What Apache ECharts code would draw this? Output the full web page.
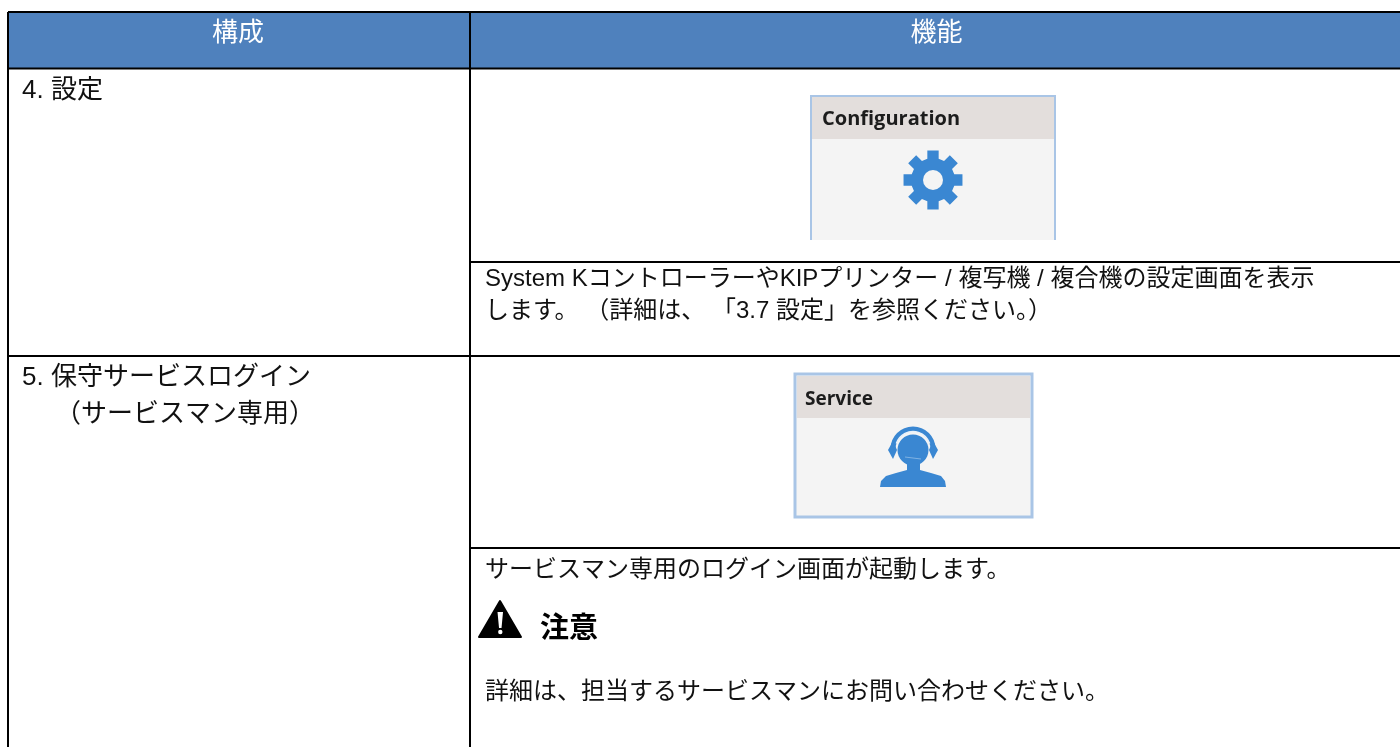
<!DOCTYPE html>
<html>
<head>
<meta charset="utf-8">
<title>構成と機能</title>
<script src="https://cdn.jsdelivr.net/npm/echarts@6/dist/echarts.min.js"></script>
<style>
  html, body { margin: 0; padding: 0; background: #fff; }
  #main { width: 1400px; height: 747px; }
</style>
</head>
<body>
<div id="main"></div>
<script>
// table content
const headers = ['構成', '機能']
const row4Name = ['4. 設定']
const row4Desc = ['System KコントローラーやKIPプリンター / 複写機 / 複合機の設定画面を表示', 'します。 （詳細は、 「3.7 設定」を参照ください。）']
const row5Name = ['5. 保守サービスログイン', '（サービスマン専用）']
const row5Desc = 'サービスマン専用のログイン画面が起動します。'
const cautionTitle = '注意'
const cautionText = '詳細は、担当するサービスマンにお問い合わせください。'

const FONT = '"Liberation Sans", "Noto Sans CJK JP", sans-serif'
const BLUE = '#4f81bd'
const ICON = '#3a87d2'
const BOX_LINE = '#a9c5e6'
const BOX_BG = '#f4f4f4'
const SIZE = 24
const LEFT_SIZE = 26

const txt = (x, y, text, size, extra) => ({
  type: 'text',
  x, y,
  style: Object.assign({ text, fontFamily: FONT, fontSize: size, fill: '#111', verticalAlign: 'middle' }, extra)
})
const line = (x1, y1, x2, y2) => ({
  type: 'line',
  shape: { x1, y1, x2, y2 },
  style: { stroke: '#000', lineWidth: 2 }
})

// gear outline with 8 teeth around (cx, cy)
const gearPoints = (cx, cy, rOut, rIn) => {
  const pts = []
  for (let i = 0; i < 8; i++) {
    const a = (i * Math.PI) / 4 - Math.PI / 2
    ;[[rIn, a - 0.26], [rOut, a - 0.19], [rOut, a + 0.19], [rIn, a + 0.26]].forEach(([r, t]) => {
      pts.push([cx + r * Math.cos(t), cy + r * Math.sin(t)])
    })
  }
  return pts
}

const boxTitle = (x, y, title, size) =>
  txt(x, y, title, size, { fontFamily: '"Open Sans", sans-serif', fontWeight: 'bold', fill: '#1c1c1c' })

const elements = [
  { type: 'rect', shape: { x: 8, y: 12, width: 1392, height: 56 }, style: { fill: BLUE } },
  txt(238, 33.5, headers[0], LEFT_SIZE, { fill: '#fff', textAlign: 'center' }),
  txt(936.5, 33.5, headers[1], LEFT_SIZE, { fill: '#fff', textAlign: 'center' }),

  line(8, 12, 1400, 12),
  line(8, 68.5, 1400, 68.5),
  line(8, 356, 1400, 356),
  line(470, 262, 1400, 262),
  line(470, 548, 1400, 548),
  line(8, 12, 8, 747),
  line(470, 12, 470, 747),

  txt(22, 91, row4Name[0], LEFT_SIZE),
  txt(485, 279, row4Desc[0], SIZE),
  txt(485, 311, row4Desc[1], SIZE),
  txt(22, 378, row5Name[0], LEFT_SIZE),
  txt(55, 415, row5Name[1], LEFT_SIZE),
  txt(485, 570.5, row5Desc, SIZE),
  txt(485, 692, cautionText, SIZE),
  txt(540, 630, cautionTitle, 29, { fontWeight: 'bold', fill: '#000' }),

  // caution triangle
  { type: 'polygon', shape: { points: [[500, 601], [521, 637], [479, 637]] }, style: { fill: '#000', lineJoin: 'round', stroke: '#000', lineWidth: 2 } },
  { type: 'polygon', shape: { points: [[497.5, 612], [503, 612], [501.5, 628], [499, 628]] }, style: { fill: '#fff' } },
  { type: 'circle', shape: { cx: 500.3, cy: 632, r: 2.2 }, style: { fill: '#fff' } },

  // Configuration tile, its lower edge is cropped
  { type: 'rect', shape: { x: 810, y: 95, width: 246, height: 145 }, style: { fill: BOX_BG } },
  { type: 'rect', shape: { x: 810, y: 95, width: 246, height: 44 }, style: { fill: '#e3dedc' } },
  { type: 'polyline', shape: { points: [[811, 240], [811, 96], [1055, 96], [1055, 240]] }, style: { fill: 'none', stroke: BOX_LINE, lineWidth: 2 } },
  boxTitle(822, 119, 'Configuration', 20),
  { type: 'polygon', shape: { points: gearPoints(933, 180, 30, 22) }, style: { fill: ICON } },
  { type: 'circle', shape: { cx: 933, cy: 180, r: 10 }, style: { fill: BOX_BG } },

  // Service tile
  { type: 'rect', shape: { x: 795, y: 374, width: 237, height: 143 }, style: { fill: BOX_BG, stroke: BOX_LINE, lineWidth: 3 } },
  { type: 'rect', shape: { x: 797, y: 376, width: 233, height: 42 }, style: { fill: '#e3dedc' } },
  boxTitle(805, 400, 'Service', 19),
  // headset operator
  { type: 'arc', shape: { cx: 913, cy: 449, r: 20, startAngle: Math.PI, endAngle: Math.PI * 2 }, style: { fill: 'none', stroke: ICON, lineWidth: 5 } },
  { type: 'arc', shape: { cx: 913, cy: 449, r: 17.5, startAngle: Math.PI * 1.1, endAngle: Math.PI * 1.9 }, style: { fill: 'none', stroke: '#e8f1fa', lineWidth: 1.5 } },
  { type: 'circle', shape: { cx: 913, cy: 450, r: 15.5 }, style: { fill: ICON } },
  { type: 'polygon', shape: { points: [[893, 441], [888, 450], [893, 459], [897, 450]] }, style: { fill: ICON } },
  { type: 'polygon', shape: { points: [[933, 441], [929, 450], [933, 459], [938, 450]] }, style: { fill: ICON } },
  { type: 'polygon', shape: { points: [[880, 487], [881, 481], [886, 476], [896, 473], [907, 470], [907, 460], [920, 460], [920, 470], [931, 473], [941, 476], [945, 481], [946, 487]] }, style: { fill: ICON } },
  { type: 'line', shape: { x1: 905, y1: 457, x2: 921, y2: 459 }, style: { stroke: '#7fb2e3', lineWidth: 1 } }
]

const chart = echarts.init(document.getElementById('main'))
chart.setOption({
  animation: false,
  graphic: { elements }
})
</script>
</body>
</html>
